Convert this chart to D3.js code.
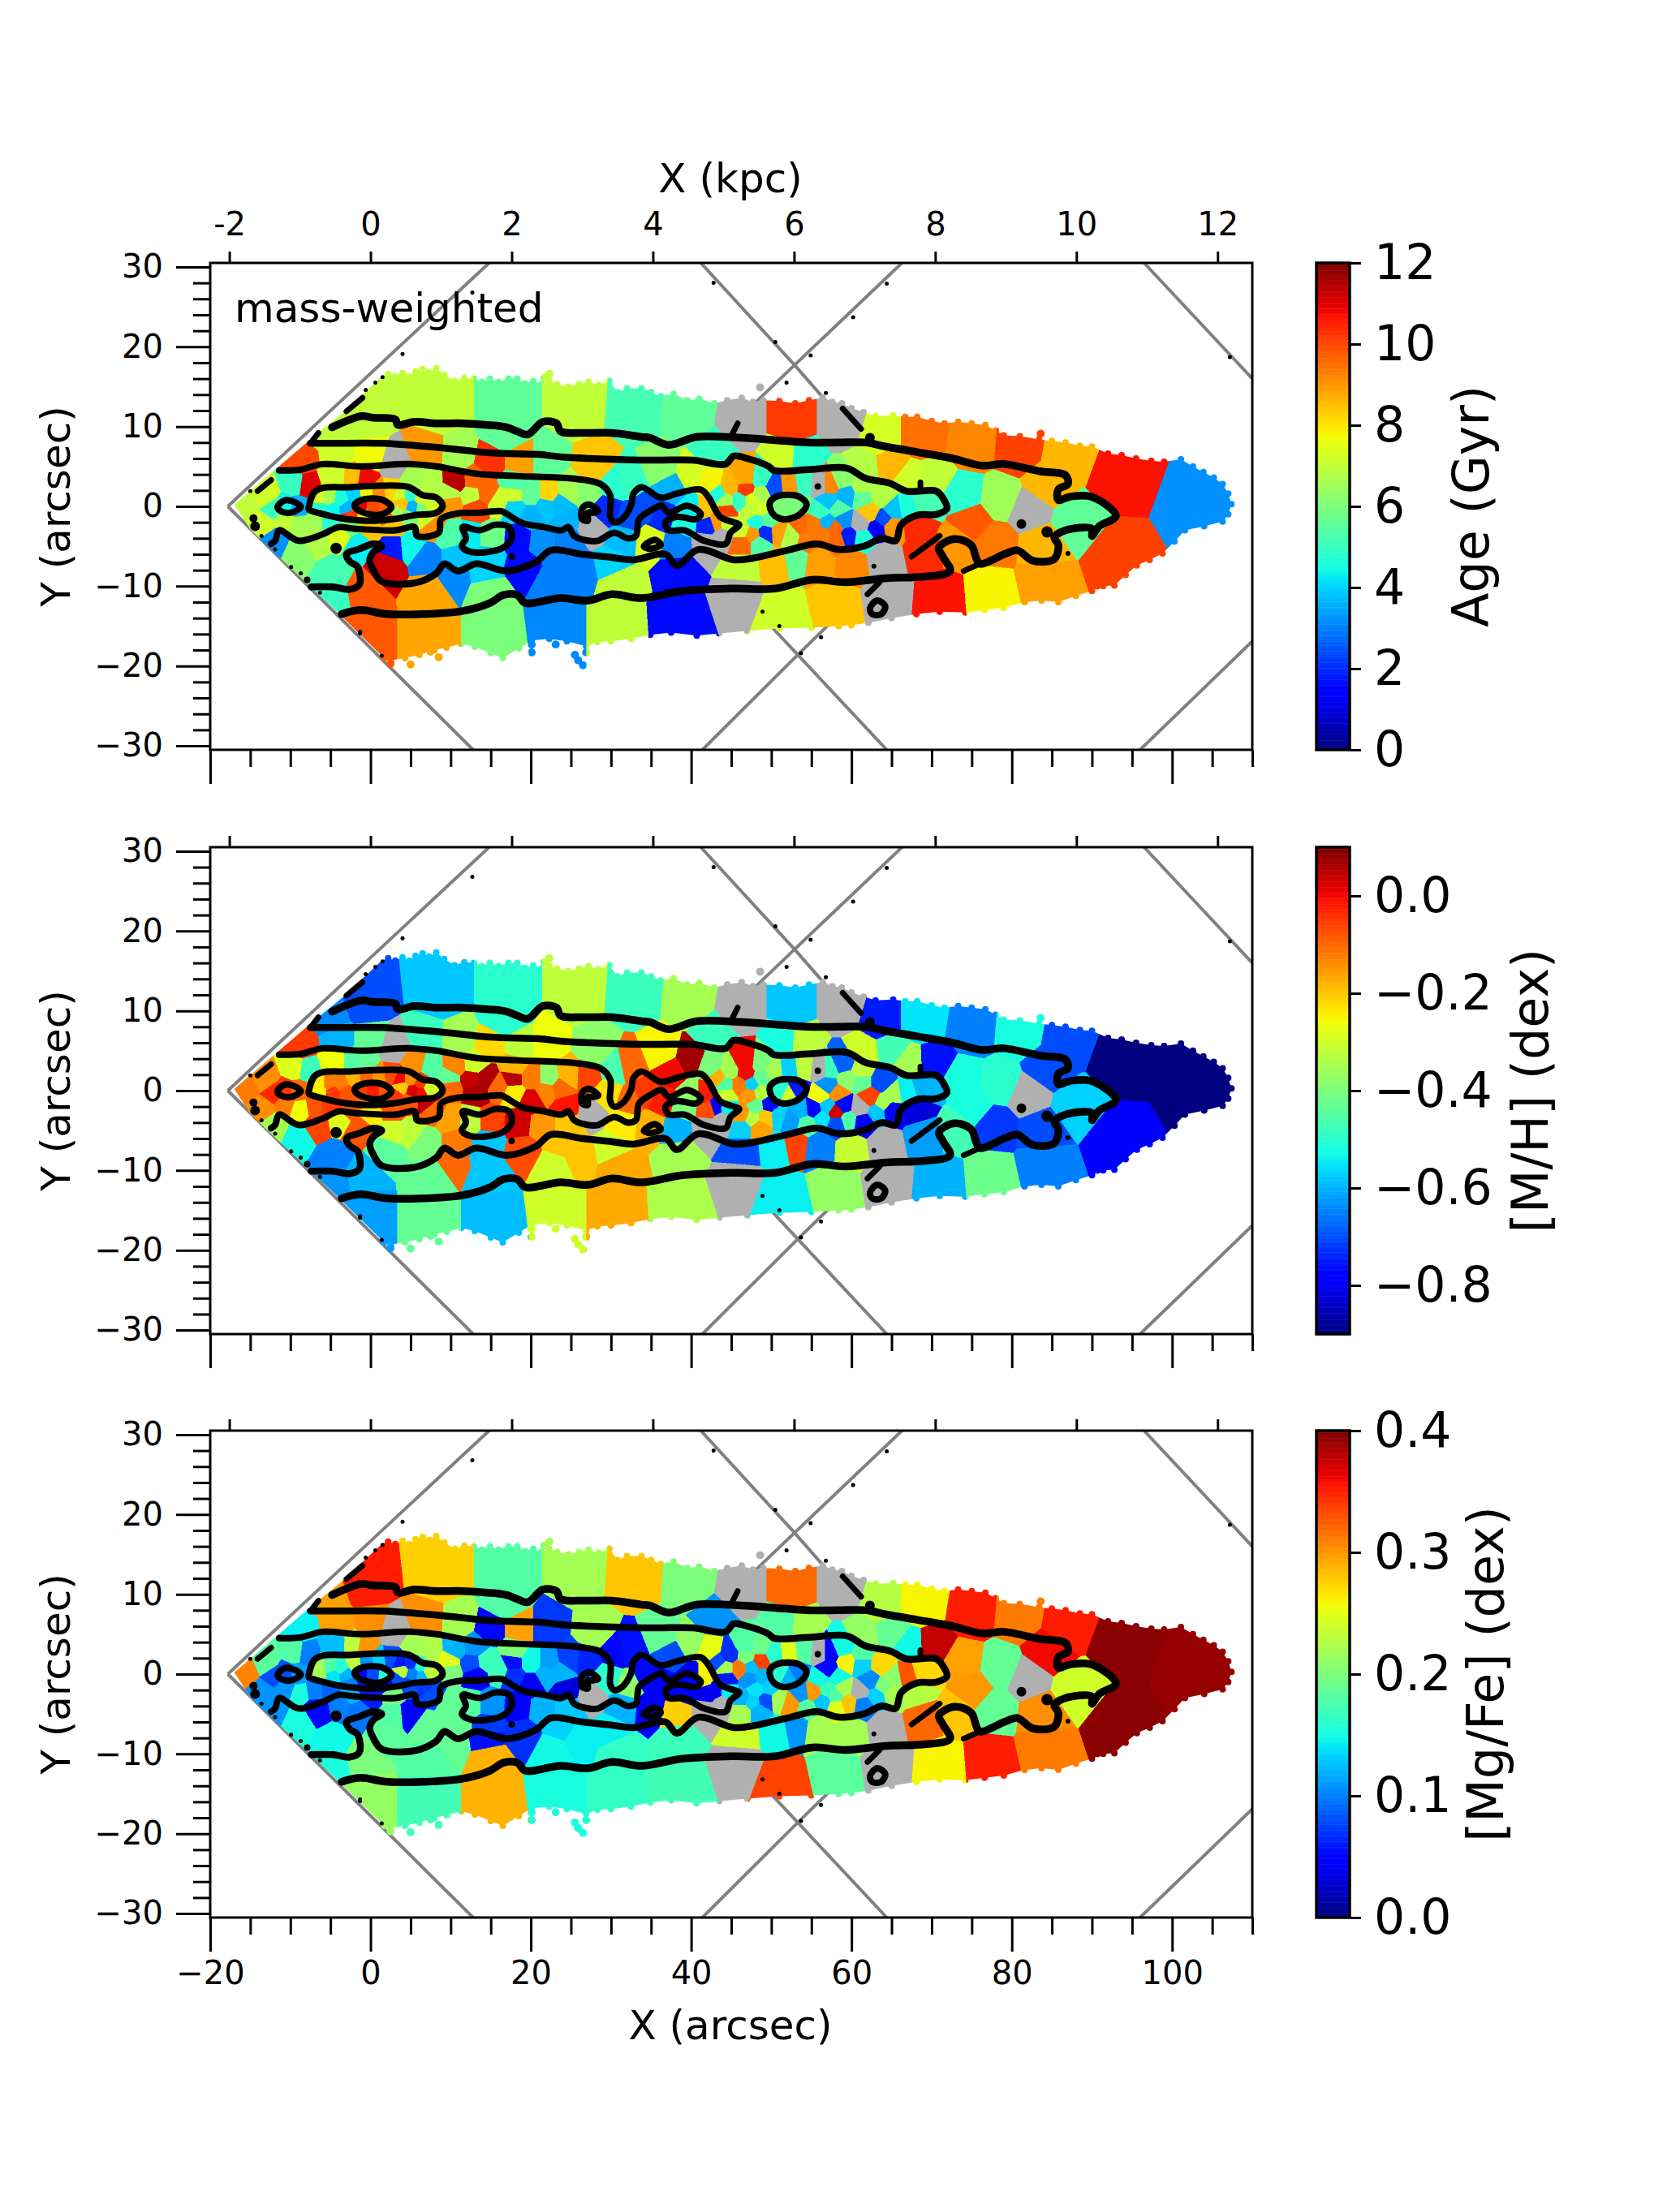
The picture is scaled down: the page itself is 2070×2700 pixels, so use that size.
<!DOCTYPE html>
<html>
<head>
<meta charset="utf-8">
<title>mass-weighted maps</title>
<script src="https://d3js.org/d3.v7.min.js"></script>
<style>
    body { margin: 0; padding: 0; background: #fff; }
    text { font-family: "DejaVu Sans", sans-serif; fill: #000; }
</style>
</head>
<body>
<div id="chart"></div>
<script>
// tessellation bins: position in arcsec and the three maps. null is a bin without a fit (grey)
const binX = [-0.5,-5.5,8.7,17.2,25.7,33,39.7,46.2,52.7,58.7,63.6,68.8,75,80.9,86.7,93.5,103,93,
    -0.5,7.2,15.4,23.2,30.7,38.4,46,51.3,57.9,64.5,71,77.3,84,
    -8.7,-4,0,2.9,7,11,15,18.6,22,28,32.3,36.3,39.9,37.5,42.9,51.6,54,64.9,84.4,70.2,73.8,78.6,82,88,75,73,77.9,83.7,69,68,66.9,69,65.2,67.2,
    43.4,44.8,42.4,46.8,46.9,48.7,50.3,48.7,52.4,54,56.1,57.3,58.9,61.5,59.4,61.3,61.3,63.7,47.5,47.3,48.7,49.7,48.1,51.2,52.2,53.2,53.7,55.3,56.2,57.1,58.3,57,59,58,59.6,56.4,58.1,54.4,52.4,50.8,49.3,47.6,48.5,46.3,46.3,61.1,62.3,64,63.2,65,61.5,44.4,44.4,46,44.3,40.2,41.6,39.2,42.2,43.1,41.9,43.9,36.2,34.5,34.8,38.2,32.2,
    53,56,60,50.5,46.3,38.5,64,30,31,26,31.5,-1,7.4,10.2,15,14.5,22.7,19,23.7,-4.7,-9,-4.7,-6.8,-1.8,2.8,5,2,7,10.8,14.6,18.5,10,14.9,12.5,21.4,24.7,27.5,-3.6,
    -8,-4.5,-2,-0.8,7.5,5.5,10.6,13,9.7,12.7,17.8,14.4,13.2,16,18,22.3,20,20,17.9,22,24.4,23.7,27,24.7,30.4,29.5,
    -6.3,-5.2,-3.6,-6.3,-4.7,-3,-0.6,1.1,2.6,3.6,5,6.3,5.3,3.8,7.3,6.3,-1.3,0.4,1.75,3.1,-2,2.1,-2.6,-0.6,4.8,7.15,9.85,7.8,-8.7,-10.7,-7,-5,0.05,2.8,-2.6,
    -15.5,-12,-13.1,-9.4,-13.4,-10.6,-9,-12,16.8];
const binY = [11,9.3,12,12,12,11.5,11,10,10,10,8.5,8.5,7.5,7,6,3.5,0,-6,
    -15,-15,-15,-14,-14,-13.5,-11,-13,-11.5,-10.5,-11,-10.5,-9,
    5.5,6,6,5.15,6.5,6.3,5.5,5.5,5.5,5,3.1,4.7,3.8,2.4,6.8,6.5,6.3,5.2,2.8,3.5,1.4,0.8,-0.6,-2,-2,-4.8,-4.5,-5,-5.5,-2.2,-0.2,0.4,-0.5,3.4,
    1.6,2.4,2.9,3.5,2.1,3.3,2.4,1.6,2.6,2.8,2.6,2.6,3.3,4.8,1.4,2.4,1.1,1.1,0.8,-0.6,-0.3,-1.8,-2,0.1,-0.4,0.2,-2.5,-2.3,-0.6,0.6,-0.4,-2,-1.8,-2.7,-3.7,-3.5,-4.2,-4.2,-3.7,-3.2,-3.3,-3.5,-4.7,-4.7,-3,-2.1,-0.8,-1.6,-2.8,-2.5,-4,-2,-0.45,0.7,0.7,-0.6,-0.6,-2,-2.3,-2,-4.7,-3.8,-1.3,-0.3,-4.3,-5,-1.5,
    -6.5,-6.9,-7.1,-7,-7.4,-8,-6.5,-7.2,-9.5,-8,-4,-10.5,-10.5,-8.5,-10.5,-7.9,-9.5,-7.5,-6.5,-8.4,-5.7,-11.1,-4.3,-4.7,-5.2,-5,-7.4,-6.5,-6.4,-6.4,-4,-3.5,-3.7,-3.7,-4.3,-4.3,-2.7,-3.7,
    2.6,3.8,3.7,3.5,3,3.5,3.2,3.3,1.5,1.3,1.4,1.5,-0.1,0.5,3,1.5,1.5,-1.2,-0.2,0,-2,0.4,1.8,1.9,2.7,-0.5,
    0.9,0.9,0.75,-0.1,-0.27,-0.1,1.6,1.6,1.8,1.4,1.4,0.9,-0.1,0.4,0.25,-0.27,0.07,0,-0.1,-0.6,1.4,-1.3,-1.3,-1.3,-1.3,-1.5,0.4,-2.3,-2.3,-1.6,-2,-2,-2.5,-2.3,-2.6,
    0.4,-0.3,1.4,2.8,-2.3,-0.1,-0.1,-4.3,9];
const binAge = [7,7,7,5.6,7,5.2,5.6,null,10.2,null,7.3,9.5,9.2,10.1,8.6,10.7,3.2,10.1,
    9.8,8.8,6,3.1,7,1.6,null,7.2,8.4,null,10.7,7.8,8.9,
    10,7.2,7.7,null,9,6.6,10.3,8.9,5.6,8.4,5,6.2,7.3,3.6,5,7.2,4.8,8.6,8.6,7,4.8,6.5,null,5.6,9.8,9,9.4,8.6,10.4,10.4,4.6,5.2,3.8,7.2,
    4.6,8.6,7.8,8.8,10.2,5,2.4,6.7,9,5,null,9.2,6.2,6.8,3.6,6.7,5.6,6.8,7.2,7,7.2,5.5,4.6,6,6,6,9.6,9.4,5,3.8,5.4,3.6,3.2,9.6,1.8,9.4,9.6,9.4,6.8,8.9,2,9,5.4,9.6,7.2,null,8.4,2.4,1.4,9,4.6,7,10.1,5,6.6,4.3,8.4,4.6,1.9,9,null,null,2,2.4,7.4,3,2.4,
    5.6,8.9,9.2,8.5,7,1.6,null,4,7,3,3.7,9.8,8.8,3.1,6,4,3,1.6,3,5.2,6.2,5,6.8,4.3,1.8,4.4,11.2,3,3.8,4,1.6,5.3,5.8,4.3,3.2,3,null,7.4,
    11,7.2,8.5,10.8,6.8,6.6,11.4,9.6,6.8,7,7.2,9.6,10,7.2,5.4,8.2,5.6,3.6,4,3.8,3.6,3.7,6.2,6.6,4.8,2,
    7.2,6.6,4.6,4.8,4.4,3.6,7.8,9.1,8.2,7.2,4.8,7.2,3.6,8.4,7.2,6,11,10,9.8,6.6,4,9.6,10.2,8,6,7.2,9,9.1,6.6,7,6.6,4.8,8.4,8.4,6,
    7,5,7.2,5,7.2,4.4,3.6,3.2,5.6];
const binMH = [-0.7,-0.64,-0.58,-0.5,-0.32,-0.48,-0.35,null,-0.58,null,-0.75,-0.55,-0.65,-0.52,-0.7,-0.9,-0.9,-0.78,
    -0.62,-0.43,-0.59,-0.3,-0.17,-0.34,null,-0.54,-0.37,null,-0.6,-0.42,-0.65,
    -0.05,-0.6,-0.43,null,-0.48,-0.35,-0.22,-0.32,-0.26,-0.38,-0.1,-0.25,0.07,0,-0.48,-0.52,-0.32,-0.47,-0.7,-0.76,-0.52,-0.5,null,-0.57,-0.52,-0.47,-0.72,-0.7,-0.62,-0.82,-0.54,-0.6,-0.35,-0.35,
    -0.18,-0.35,-0.4,0,0,-0.4,-0.35,-0.43,-0.57,-0.32,null,-0.48,-0.68,-0.3,-0.38,-0.32,-0.43,-0.7,-0.57,-0.15,-0.33,-0.77,-0.43,-0.5,-0.3,-0.75,-0.6,-0.78,-0.26,-0.63,-0.14,-0.58,-0.77,0.03,-0.46,-0.55,-0.7,-0.45,-0.62,-0.57,-0.2,-0.33,-0.16,-0.57,-0.15,null,-0.06,-0.35,-0.58,-0.77,-0.78,-0.54,-0.3,-0.12,-0.45,-0.37,-0.02,-0.4,-0.07,-0.78,null,null,-0.02,-0.05,-0.18,-0.6,-0.1,
    -0.06,-0.65,-0.31,-0.54,-0.7,-0.35,null,-0.3,-0.17,-0.2,-0.24,-0.6,-0.43,-0.1,-0.58,-0.58,-0.3,-0.07,-0.2,-0.65,-0.53,-0.63,-0.06,-0.08,-0.3,-0.32,-0.44,-0.4,-0.12,-0.58,0.03,-0.16,-0.06,-0.32,-0.15,-0.2,null,-0.28,
    -0.48,-0.26,-0.45,-0.43,-0.45,-0.14,-0.13,-0.3,-0.43,0.04,0.05,0.06,0.06,-0.1,-0.18,-0.38,-0.12,0.02,-0.24,-0.13,-0.01,-0.1,-0.06,-0.18,-0.46,-0.23,
    -0.24,-0.12,-0.12,-0.25,-0.05,-0.08,-0.1,-0.15,-0.07,0,-0.14,-0.05,0.02,-0.2,-0.3,0,-0.05,-0.02,-0.08,-0.05,-0.18,-0.06,-0.08,-0.1,-0.08,0.05,-0.1,-0.1,-0.26,-0.12,-0.08,-0.05,-0.24,-0.08,-0.08,
    -0.12,-0.03,-0.14,-0.28,-0.14,-0.05,-0.1,-0.35,-0.5];
const binMgFe = [0.352,0.296,0.276,0.18,0.22,0.28,0.2,null,0.32,null,0.228,0.26,0.352,0.312,0.352,0.396,0.392,0.396,
    0.212,0.172,0.288,0.152,0.164,0.172,null,0.336,0.184,null,0.26,0.352,0.312,
    0.144,0.296,0.304,null,0.304,0.22,0.052,0.296,0.072,0.22,0.056,0.188,0.212,0.08,0.108,0.18,0.22,0.188,0.36,0.376,0.296,0.188,null,0.24,0.3,0.28,0.188,0.304,0.32,0.228,0.328,0.272,0.208,0.148,
    0.08,0.068,0.252,0.18,0.2,0.192,0.16,0.336,0.248,0.18,null,0.052,0.148,0.212,0.26,0.18,0.132,0.272,0.124,0.108,0.12,0.132,0.14,0.16,0.12,0.1,0.108,0.3,0.148,0.052,0.148,0.168,0.22,0.18,0.28,0.128,0.248,0.18,0.3,0.22,0.08,0.132,0.12,0.22,0.12,null,0.104,0.2,0.132,0.22,0.1,0.144,0.06,0.312,0.22,0.04,0.26,0.048,0.04,0.04,null,null,0.048,0.052,0.044,0.276,0.208,
    0.108,0.22,0.22,0.148,0.24,0.168,null,0.144,0.164,0.144,0.12,0.2,0.18,0.188,0.288,0.056,0.148,0.068,0.132,0.148,0.152,0.152,0.052,0.096,0.18,0.048,0.184,0.188,0.188,0.072,0.044,0.188,0.108,0.18,0.12,0.128,null,0.1,
    0.1,0.124,0.232,0.3,0.224,0.22,0.12,0.108,0.248,0.08,0.056,0.168,0.048,0.168,0.2,0.112,0.148,0.04,0.068,0.12,0.032,0.12,0.064,0.076,0.052,0.16,
    0.22,0.18,0.16,0.22,0.14,0.12,0.108,0.132,0.08,0.06,0.068,0.16,0.1,0.232,0.232,0.12,0.048,0.08,0.16,0.08,0.232,0.048,0.1,0.06,0.08,0.072,0.2,0.08,0.152,0.108,0.1,0.088,0.06,0.2,0.12,
    0.308,0.08,0.184,0.18,0.108,0.08,0.112,0.108,0.18];

// edge of the binned field, then single spaxels that stick out of it
const fieldEdge = [[-17,0.2],[-7.7,8.2],[-3.6,11.6],[1.4,16.3],[2.2,16.6],[3.1,16.3],[4,16.7],[4.8,16.3],[5.6,16.9],[6.5,17.2],[7.3,16.8],[8.2,17.3],[9.2,16.5],[10.5,15.7],[11.7,16.1],[12.9,16],[13.9,15.6],[14.9,16],[16,15.6],[17.2,16],[18.3,16],[19.3,15.4],[20.3,15.7],[21.3,15.3],[22.3,15.7],[23.3,15.3],[24.7,15],[26,15.3],[27.2,15.6],[28.5,15.2],[29.8,15.7],[30.8,14.3],[32,14.8],[33.8,14.8],[35,14.3],[36.2,13.8],[37.8,14.1],[39.5,13.3],[41,13.5],[42.9,12.9],[44.5,13.3],[46.3,13.6],[47.7,13.1],[49,13.3],[51,13.2],[53,12.9],[54.7,13.3],[56.4,13.6],[57.6,13.1],[58.8,12.9],[60,12.3],[61.5,11.8],[63,11.3],[65.2,11.4],[66.7,11.2],[68.2,11.2],[70,10.7],[71.6,10.4],[73.3,10.6],[75,10.4],[76.7,10.2],[78,9.5],[79,8.9],[81,8.8],[83.4,8.4],[85,8.2],[86.7,8],[88.5,7.6],[90,7.5],[92,6.6],[93.7,6.4],[95.5,6],[97.4,5.7],[99,5.6],[101.1,5.9],[102.6,5],[103.9,4.3],[105.2,3.6],[106.3,2.8],[107,1.6],[107.4,0.27],[107,-1],[106.3,-1.9],[104,-2.5],[101.6,-3],[100.3,-4.4],[98.8,-5.9],[97.2,-6.7],[95.6,-7.4],[94.2,-8.6],[92.8,-9.9],[91.4,-10],[90,-10.6],[88,-11.2],[85.8,-12],[83.7,-11.8],[81.6,-12],[79,-12.7],[76.6,-13],[74.2,-13.3],[71,-13.2],[68.1,-13.5],[65,-14],[62.1,-14.6],[60,-14.9],[58.4,-15],[55,-15.2],[51,-15.3],[47,-15.6],[43.5,-15.9],[40.7,-16.2],[37.5,-15.8],[34.9,-16.1],[32.5,-16.6],[30,-16.9],[28.3,-17],[26.9,-17.5],[24.5,-16.9],[22.3,-16.6],[20.1,-16.8],[18.5,-17.8],[16.5,-19],[15,-18.4],[13,-17.6],[11.3,-17.2],[9.5,-17.7],[8,-18],[6.1,-18.6],[4.3,-19],[2.5,-19.3],[1.7,-19],[-5,-12.4],[-12.3,-5.5],[-14.9,-3]];
const straySpaxels = [[2.5,-19.7],[5,-19.8],[7.5,-18.2],[8.5,-18.9],[20.1,-17.3],[23.1,-17.3],[25.5,-18.6],[25.9,-19.3],[26.5,-19.9],[26.9,-18.3],[22.3,16.6],[21.7,16.1],[83.6,9.1],[48.6,14.9],[90.7,-9.9],[20.1,-18.3]];

// slit pattern outlines, they run on under the map
const pointingLines = [[[-17.8,0],[14.8,30.5]],[[-17.8,0],[12.8,-30.5]],
    [[41.2,30.5],[52.9,17.7],[57,13]],[[66.3,30.5],[52.9,17.7],[48,13]],
    [[64.4,-30.5],[53.3,-18.6],[49,-14]],[[41.4,-30.5],[53.3,-18.6],[58,-14]],
    [[96.5,30.5],[110,16]],[[96,-30.5],[110,-16.9]]];

// isophotes, same for all three maps
const contourOuter = [[-4.8,9.9],[-3,10.7],[-1.1,11.3],[0.4,11.1],[3.1,10.9],[3.4,10.2],[5.5,10.6],[8.2,10.4],[11.5,10.4],[14.6,10.2],[17,9.9],[18.3,9.4],[19.6,9],[21.5,10.6],[23.2,10.4],[23.7,9.4],[26.7,9.2],[30.1,9.2],[33.8,8.7],[34.8,8.6],[37.2,7.7],[40.6,8.7],[44.3,8.7],[48,8.5],[51.7,8.2],[54.4,8],[58.4,8],[61.8,8],[64.2,7.5],[68.2,6.8],[72.6,6],[76.3,5.1],[79,5.3],[83.5,4.4],[86.7,3.9],[87,2.8],[85.8,2.1],[85.8,0.8],[87.2,1.2],[90,1.2],[93,-1.2],[90.9,-2.5],[90,-3.7],[90,-2.8],[86.7,-3],[85.3,-3.9],[85.8,-4.8],[85.3,-6.6],[82.6,-6.8],[80.7,-5.5],[79.3,-5.9],[76,-7.2],[75.6,-6.6],[74.9,-4.8],[72.8,-4.1],[70.9,-5.2],[71.4,-6.3],[72.3,-8.1],[69.1,-8.8],[64.4,-9],[59.3,-9.5],[55.1,-9.2],[50.5,-10.3],[44.9,-10.3],[38.9,-10.6],[33.8,-11.5],[30.1,-11],[27.1,-11.8],[23.7,-11.5],[19.3,-12.1],[18.3,-11.1],[16.6,-11.1],[14.9,-12.1],[11.5,-13.1],[6.5,-13.5],[2.1,-13.5],[-1.3,-13],[-3.6,-13.5]];
const contourSecond = [[-7.5,7.9],[-4.7,7.9],[1.4,7.9],[8.2,7.4],[14.9,6.7],[21,6.5],[23.7,6.2],[27.4,6],[33.8,5.8],[36.2,5.8],[40.2,5.8],[44.3,5.3],[45.3,6.3],[47,6],[49.7,5],[50.3,4.5],[54.7,4.6],[59.4,4.8],[61.8,3.5],[64.8,2.9],[66.9,1.9],[70.6,1.9],[71.6,0.7],[71.9,-0.3],[70.6,-1],[68.2,-1.1],[66.2,-2.3],[65.5,-4.3],[63.8,-4],[61.5,-5],[58.4,-5.4],[55.7,-4.7],[52,-5.5],[47.6,-6.5],[45.3,-6.7],[40.9,-5.4],[38.2,-7.4],[36.8,-6],[32.8,-6.7],[30.1,-6.4],[26.4,-6],[22.5,-5.5],[20.6,-7],[17,-8.1],[13.2,-7.2],[10.9,-8.1],[9.2,-7.2],[8.2,-8.4],[5.5,-9.6],[1.4,-9.4],[0.4,-8.1],[-0.1,-6.7],[0.4,-5.7],[1.4,-5],[0.4,-4.7],[-1.3,-5.3],[-3,-6],[-2.6,-6.9],[-1.6,-7.6],[-1.4,-9.8],[-2.6,-10.4],[-4.7,-10.1],[-7.4,-10.1]];
const contourThird = [[-11.4,4.5],[-8.7,4.6],[-6,5.3],[-1.3,5],[4.8,5.3],[8.2,5],[13.2,4.1],[18.3,3.8],[25,3.5],[28.7,2.8],[29.9,1.4],[29.9,-1.3],[30.4,-2],[31.4,-1.6],[32.5,0.1],[32.8,1.6],[33.8,2.4],[36.2,1.1],[38.2,1.6],[41.2,2.1],[42.2,1.1],[43.6,-1.3],[45.3,-2],[46,-2.3],[44.9,-3.3],[44.3,-4.7],[41.6,-4.3],[39.2,-3],[37.2,-3],[36.8,-2],[38.2,-1.3],[40.6,-1.6],[41.2,-0.95],[39.5,0.07],[37.2,-0.8],[36.3,0.07],[34.8,-0.6],[33.5,-1.6],[33.1,-3.7],[32.1,-4],[30.4,-3.3],[28.4,-4.3],[27.1,-4.3],[25.4,-3.7],[24.7,-2.6],[23.8,-3],[21.7,-2.6],[19,-2.1],[17,-0.95],[16.3,-0.6],[13.6,-0.8],[10.5,-0.95],[8.8,-1.6],[8.5,-3.3],[5.8,-3.7],[5.5,-2.6],[3.1,-3],[-2,-2.8],[-4,-2.6],[-6,-3.5],[-9,-4.3],[-11.4,-3],[-11.9,-4.3],[-12.4,-4.7]];
const contourLoops = [
    [[-7.7,-0.1],[-7,1.8],[-6,2.3],[-2.6,2.4],[1.4,2.6],[4.8,2.4],[6.5,1.4],[8.2,1.1],[9,0.07],[8.2,-0.8],[5.5,-1.1],[2.8,-1.6],[-0.6,-1.8],[-3.6,-1.5],[-6,-0.95],[-7.7,-0.4]],
    [[-1.96,0.24],[-0.95,0.85],[1.4,0.85],[2.6,-0.1],[1.4,-1],[-0.27,-0.95],[-1.8,-0.27]],
    [[-11.6,-0.1],[-10.7,0.75],[-9.2,0.4],[-8.7,-0.1],[-10,-0.8],[-11.2,-0.6]],
    [[11.5,-2.6],[13.6,-3],[15.6,-2.3],[17.3,-2.6],[17.6,-4],[16.3,-5.3],[12.5,-5.7],[11.4,-5],[11.9,-4]],
    [[26.4,-1.6],[26.4,-0.27],[27.2,0.24],[28.4,-0.6],[27.7,-0.8],[27.1,-0.8],[27.1,-1.8]],
    [[49.8,0.4],[50.7,1.25],[53.4,1.25],[54.4,0.24],[53.4,-1.1],[51.4,-1.6],[50.2,-0.95]],
    [[34.1,-5],[35.5,-4.2],[36.2,-4.85],[34.8,-5.3]],
    [[62.3,-12.8],[63.2,-11.8],[64.2,-12.5],[63.7,-13.5],[62.6,-13.5]]
];
const contourBits = [[[-3,11.9],[-1,13.6]],[[58.9,12.25],[61.2,9.7]],[[67.5,-6.3],[71,-3.7]],[[63.5,-9.5],[62,-11]],[[45.8,10.4],[45.1,9]],[[68.6,3],[68.6,2.1]],[[-7.5,7.9],[-6.5,9.2]],[[-14.1,1.9],[-12.4,3.3]],[[76,-7.2],[74,-8.1]]];
const contourDots = [[-4.3,-5.25,7],[-14.4,-2.5,6],[-14.6,-1.5,5],[81.2,-2.2,6],[84.4,-3.2,7],[55.8,2.5,4],[62.8,-7.5,3],[62.3,8.6,6],[17.6,-6.3,4],[-7.9,-9.2,4],[87,-5.9,3]];
const contourSpecks = [[12.7,26.8],[4,19.1],[42.8,28],[64.4,27.9],[50.5,20.6],[54.9,18.9],[60.2,23.7],[51.9,15.5],[56.8,14.2],[107.2,18.7],[53.7,-18.4],[56.2,-16.4],[51,-15],[48.9,-13.2],[1.5,16.2],[-1.3,-15.9],[0.6,15.5],[-0.6,14.6],[-6.7,9],[-15,1.9],[-13.6,-3.7],[-11.9,-5.4],[-9.9,-7.6],[-8.7,-8.4],[-6.3,-10.8],[-1.3,-15.7],[1.4,-18.7]];

const xTicks = [-20,0,20,40,60,80,100];
const xMinor = [-15,-10,-5,5,10,15,25,30,35,45,50,55,65,70,75,85,90,95,105,110];
const yTicks = [-30,-20,-10,0,10,20,30];
const yMinor = [-28,-26,-24,-22,-18,-16,-14,-12,-8,-6,-4,-2,2,4,6,8,12,14,16,18,22,24,26,28];
const kpcTicks = [-2,0,2,4,6,8,10,12];

const panelLabels = ["Age (Gyr)", "[M/H] (dex)", "[Mg/Fe] (dex)"];
const panelRanges = [[0,12],[-0.9,0.1],[0,0.4]];
const panelTicks = [[0,2,4,6,8,10,12],[-0.8,-0.6,-0.4,-0.2,0],[0,0.1,0.2,0.3,0.4]];
const panelFormats = ["d", ".1f", ".1f"];
const panelValues = [binAge, binMH, binMgFe];

const margin = { left: 259, top: 324 };
const width = 1284, height = 600;
const panelTop = [324, 1044, 1763];
const cbarX = 1622, cbarW = 41;
const cbarLabelX = [1834, 1907, 1852];
const noFit = "#b0b0b0";

// matplotlib jet
const jetR = d3.scaleLinear().domain([0,.35,.66,.89,1]).range([0,0,1,1,.5]).clamp(true);
const jetG = d3.scaleLinear().domain([0,.125,.375,.64,.91,1]).range([0,0,1,1,0,0]).clamp(true);
const jetB = d3.scaleLinear().domain([0,.11,.34,.65,1]).range([.5,1,1,0,0]).clamp(true);
function jet(t) {
    return d3.rgb(jetR(t)*255, jetG(t)*255, jetB(t)*255).formatHex();
}

const svg = d3.select("#chart").append("svg").attr("width", 2070).attr("height", 2700);

const x = d3.scaleLinear().domain([-20,110]).range([0,width]);
const kpc = d3.scaleLinear().domain([-20/8.806,110/8.806]).range([0,width]);
const y = d3.scaleLinear().domain([-30.5,30.5]).range([height,0]);

const pts = binX.map((d,i) => [x(d), y(binY[i])]);
const voronoi = d3.Delaunay.from(pts).voronoi([0,0,width,height]);
const line = d3.line().x(d => x(d[0])).y(d => y(d[1]));
const smooth = d3.line().x(d => x(d[0])).y(d => y(d[1])).curve(d3.curveCatmullRom.alpha(0.5));
const smoothClosed = d3.line().x(d => x(d[0])).y(d => y(d[1])).curve(d3.curveCatmullRomClosed.alpha(0.5));

const defs = svg.append("defs");
const clip = defs.append("clipPath").attr("id", "field");
clip.append("path").attr("d", line(fieldEdge) + "Z");
clip.selectAll("circle.edge")
    .data(fieldEdge.slice(4, fieldEdge.length - 3))
    .enter().append("circle")
    .attr("cx", d => x(d[0])).attr("cy", d => y(d[1])).attr("r", 4);
clip.selectAll("circle.stray")
    .data(straySpaxels)
    .enter().append("circle")
    .attr("cx", d => x(d[0])).attr("cy", d => y(d[1])).attr("r", 5);
defs.append("clipPath").attr("id", "frame").append("rect").attr("width", width).attr("height", height);

function styleAxis(g, w) {
    g.select(".domain").remove();
    g.selectAll(".tick line").attr("stroke", "#000").attr("stroke-width", w);
    g.selectAll(".tick text").attr("fill", "#000").attr("font-family", "DejaVu Sans");
}

panelValues.forEach(function (values, p) {
    const g = svg.append("g").attr("transform", "translate(" + margin.left + "," + panelTop[p] + ")");
    const color = d3.scaleLinear().domain(panelRanges[p]).range([0,1]);

    const inner = g.append("g").attr("clip-path", "url(#frame)");
    inner.selectAll("path.pointing")
        .data(pointingLines)
        .enter().append("path")
        .attr("d", line)
        .attr("fill", "none").attr("stroke", "#808080").attr("stroke-width", 4);

    inner.append("g").attr("clip-path", "url(#field)")
        .selectAll("path")
        .data(values)
        .enter().append("path")
        .attr("d", (d,i) => voronoi.renderCell(i))
        .attr("fill", d => d === null ? noFit : jet(color(d)))
        .attr("stroke", d => d === null ? noFit : jet(color(d)))
        .attr("stroke-width", 0.6)
        .attr("shape-rendering", "crispEdges");

    const iso = inner.append("g").attr("fill", "none").attr("stroke", "#000")
        .attr("stroke-linejoin", "round").attr("stroke-linecap", "round");
    iso.append("path").attr("d", smooth(contourOuter)).attr("stroke-width", 9.5);
    iso.append("path").attr("d", smooth(contourSecond)).attr("stroke-width", 8.5);
    iso.append("path").attr("d", smooth(contourThird)).attr("stroke-width", 8);
    contourLoops.forEach(function (c) {
        iso.append("path").attr("d", smoothClosed(c)).attr("stroke-width", 8);
    });
    contourBits.forEach(function (c) {
        iso.append("path").attr("d", line(c)).attr("stroke-width", 7);
    });
    inner.selectAll("circle.dot")
        .data(contourDots)
        .enter().append("circle")
        .attr("cx", d => x(d[0])).attr("cy", d => y(d[1])).attr("r", d => d[2]).attr("fill", "#000");
    inner.selectAll("circle.speck")
        .data(contourSpecks)
        .enter().append("circle")
        .attr("cx", d => x(d[0])).attr("cy", d => y(d[1])).attr("r", 2.5).attr("fill", "#000");

    // left axis, long major ticks and shorter minor ones
    g.append("g").call(d3.axisLeft(y).tickValues(yTicks).tickSize(42).tickPadding(16).tickFormat(d3.format("d")))
        .attr("font-size", 40).call(styleAxis, 3);
    g.append("g").call(d3.axisLeft(y).tickValues(yMinor).tickSize(21).tickFormat("")).call(styleAxis, 3);

    // bottom axis
    const bottom = d3.axisBottom(x).tickValues(xTicks).tickSize(42).tickPadding(12);
    bottom.tickFormat(p === 2 ? d3.format("d") : "");
    g.append("g").attr("transform", "translate(0," + height + ")").call(bottom)
        .attr("font-size", 40).call(styleAxis, 3);
    g.append("g").attr("transform", "translate(0," + height + ")")
        .call(d3.axisBottom(x).tickValues(xMinor).tickSize(21).tickFormat("")).call(styleAxis, 3);

    // kpc axis along the top
    const top = d3.axisTop(kpc).tickValues(kpcTicks).tickSize(14).tickPadding(20);
    top.tickFormat(p === 0 ? (d => String(d)) : "");
    g.append("g").call(top).attr("font-size", 40).call(styleAxis, 3);

    g.append("rect").attr("width", width).attr("height", height)
        .attr("fill", "none").attr("stroke", "#000").attr("stroke-width", 3);

    g.append("text")
        .attr("transform", "translate(" + (86 - margin.left) + "," + (height/2) + ") rotate(-90)")
        .attr("text-anchor", "middle").attr("font-size", 50).text("Y (arcsec)");

    // colour bar
    const cy = d3.scaleLinear().domain(panelRanges[p]).range([height,0]);
    const bar = svg.append("g").attr("transform", "translate(" + cbarX + "," + panelTop[p] + ")");
    const steps = d3.range(256);
    const band = d3.scaleBand().domain(steps).range([height,0]);
    bar.selectAll("rect.step")
        .data(steps)
        .enter().append("rect")
        .attr("y", d => band(d)).attr("width", cbarW).attr("height", band.bandwidth() + 0.5)
        .attr("fill", d => jet((d + 0.5) / 256));
    const cbarAxis = d3.axisRight(cy).tickValues(panelTicks[p]).tickSize(14).tickPadding(16)
        .tickFormat(d3.format(panelFormats[p]));
    bar.append("g").attr("transform", "translate(" + cbarW + ",0)").call(cbarAxis)
        .attr("font-size", 60).call(styleAxis, 3);
    bar.append("rect").attr("width", cbarW).attr("height", height)
        .attr("fill", "none").attr("stroke", "#000").attr("stroke-width", 3.5);
    svg.append("text")
        .attr("transform", "translate(" + cbarLabelX[p] + "," + (panelTop[p] + height/2) + ") rotate(-90)")
        .attr("text-anchor", "middle").attr("font-size", 62).text(panelLabels[p]);
});

svg.append("text").attr("x", 289).attr("y", 397).attr("font-size", 50).text("mass-weighted");
svg.append("text").attr("x", 900).attr("y", 237).attr("text-anchor", "middle").attr("font-size", 50).text("X (kpc)");
svg.append("text").attr("x", 900).attr("y", 2513).attr("text-anchor", "middle").attr("font-size", 50).text("X (arcsec)");
</script>
</body>
</html>
